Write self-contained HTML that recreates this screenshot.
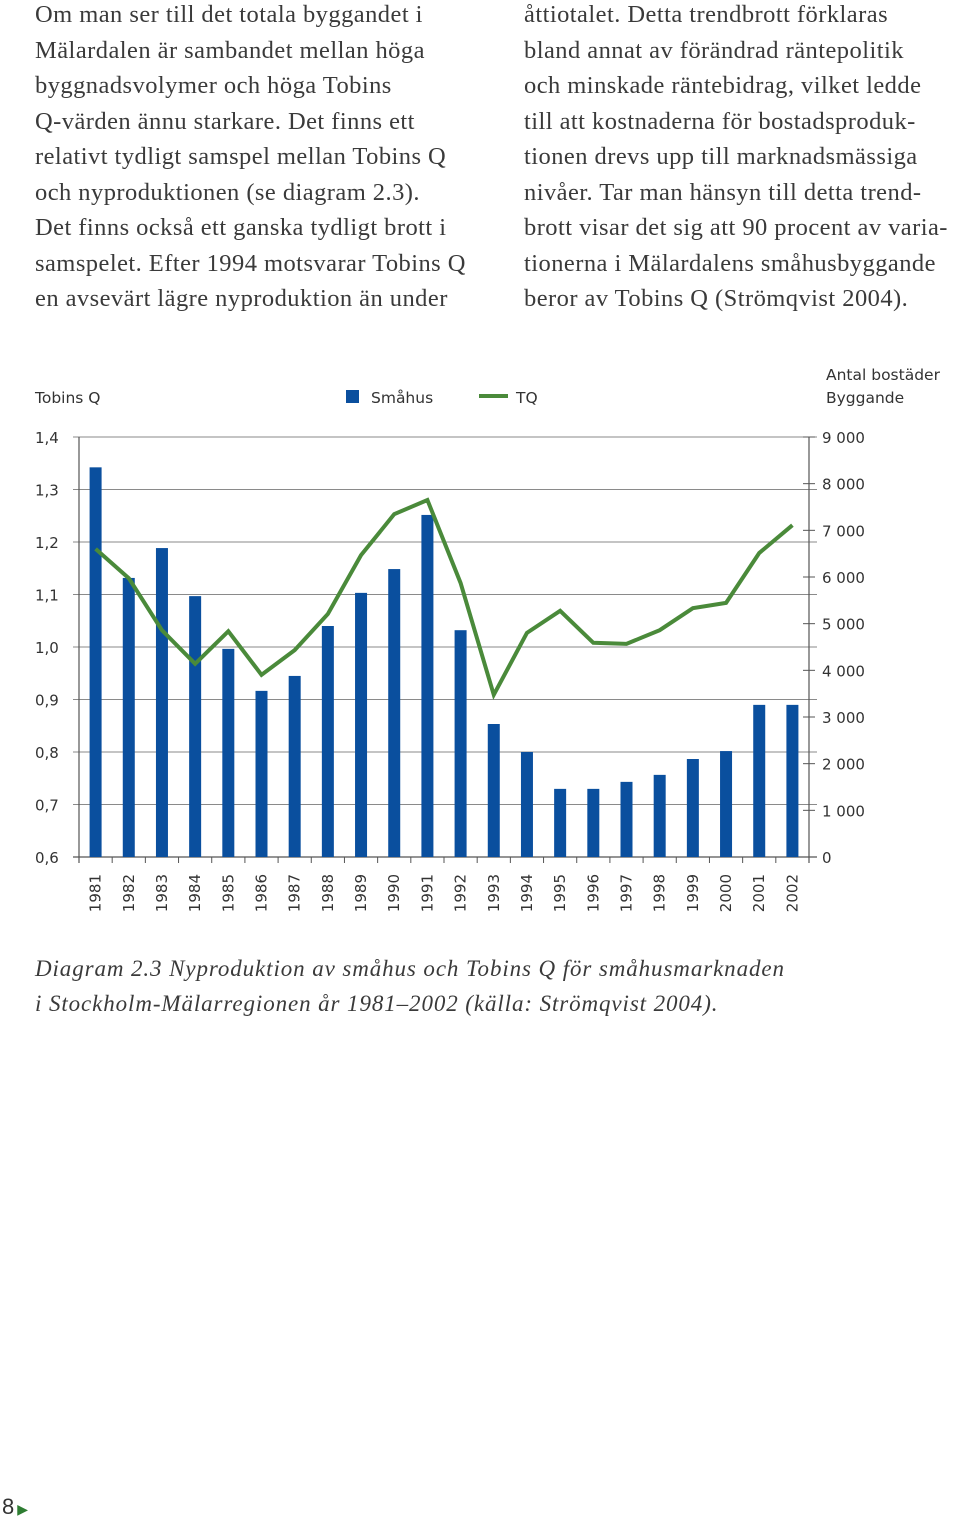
<!DOCTYPE html>
<html><head><meta charset="utf-8"><style>
body{margin:0;width:960px;height:1520px;background:#fff;position:relative;font-family:"Liberation Serif",serif;color:#333;overflow:hidden}
.col{position:absolute;top:-3px;font-size:24.5px;line-height:35.5px;color:#3a3a3a;margin:0;white-space:nowrap;letter-spacing:0.45px}
.cap{position:absolute;left:35px;top:951px;font-size:23px;line-height:35px;font-style:italic;color:#3a3a3a;margin:0;white-space:nowrap;letter-spacing:0.9px}
svg text{font-family:"DejaVu Sans","Liberation Sans",sans-serif;fill:#333}
</style></head><body>
<p class="col" style="left:35px">Om man ser till det totala byggandet i<br>Mälardalen är sambandet mellan höga<br>byggnadsvolymer och höga Tobins<br>Q-värden ännu starkare. Det finns ett<br>relativt tydligt samspel mellan Tobins Q<br>och nyproduktionen (se diagram 2.3).<br>Det finns också ett ganska tydligt brott i<br>samspelet. Efter 1994 motsvarar Tobins Q<br>en avsevärt lägre nyproduktion än under</p>
<p class="col" style="left:524px">åttiotalet. Detta trendbrott förklaras<br>bland annat av förändrad räntepolitik<br>och minskade räntebidrag, vilket ledde<br>till att kostnaderna för bostadsproduk-<br>tionen drevs upp till marknadsmässiga<br>nivåer. Tar man hänsyn till detta trend-<br>brott visar det sig att 90 procent av varia-<br>tionerna i Mälardalens småhusbyggande<br>beror av Tobins Q (Strömqvist 2004).</p>
<svg id="chart" width="960" height="940" style="position:absolute;left:0;top:0"></svg>
<p class="cap">Diagram 2.3 Nyproduktion av småhus och Tobins Q för småhusmarknaden<br>i Stockholm-Mälarregionen år 1981–2002 (källa: Strömqvist 2004).</p>
<div style="position:absolute;left:2px;top:1494px;font-family:'Liberation Sans',sans-serif;font-size:22px;color:#333">8<span style="color:#2e7d32;font-size:14px;margin-left:3px">▶</span></div>
<script>
const years=["1981","1982","1983","1984","1985","1986","1987","1988","1989","1990","1991","1992","1993","1994","1995","1996","1997","1998","1999","2000","2001","2002"];
const smahus=[8350,5980,6620,5590,4460,3560,3880,4950,5660,6170,7330,4860,2850,2250,1460,1460,1610,1760,2100,2270,3260,3260];
const tq=[1.187,1.131,1.032,0.968,1.030,0.947,0.994,1.063,1.175,1.253,1.280,1.122,0.909,1.027,1.069,1.008,1.006,1.032,1.074,1.084,1.179,1.232];
const leftTicks=["0,6","0,7","0,8","0,9","1,0","1,1","1,2","1,3","1,4"];
const leftVals=[0.6,0.7,0.8,0.9,1.0,1.1,1.2,1.3,1.4];
const rightVals=[0,1000,2000,3000,4000,5000,6000,7000,8000,9000];
const rightTicks=["0","1 000","2 000","3 000","4 000","5 000","6 000","7 000","8 000","9 000"];
const NS="http://www.w3.org/2000/svg",svg=document.getElementById('chart');
const X0=79,X1=809,Y0=857,Y1=437;
const band=(X1-X0)/years.length;
const xc=i=>X0+(i+0.5)*band;
const yL=v=>Y0-(v-0.6)/0.8*(Y0-Y1);
const yR=v=>Y0-v/9000*(Y0-Y1);
function mk(t,a,txt){const e=document.createElementNS(NS,t);for(const k in a)e.setAttribute(k,a[k]);if(txt!==undefined)e.textContent=txt;svg.appendChild(e);return e;}
leftVals.forEach((v,i)=>{
 const g=mk('line',{x1:73,x2:817,y1:yL(v),y2:yL(v),stroke:'#8a8a8a','stroke-width':1});
 
 const t=mk('text',{x:35,y:yL(v)+6,'font-size':15},leftTicks[i]);
 
});
rightVals.forEach((v,i)=>{
 const l=mk('line',{x1:803,x2:815,y1:yR(v),y2:yR(v),stroke:'#555','stroke-width':1});
 
 const t=mk('text',{x:822,y:yR(v)+6,'font-size':15},rightTicks[i]);
 
});
mk('line',{x1:X0,x2:X0,y1:Y1,y2:Y0+6,stroke:'#555','stroke-width':1.2});
mk('line',{x1:X1,x2:X1,y1:Y1,y2:Y0+6,stroke:'#555','stroke-width':1.2});
mk('line',{x1:73,x2:817,y1:Y0,y2:Y0,stroke:'#555','stroke-width':1.2});
years.forEach((yr,i)=>{
 const tk=mk('line',{x1:X0+i*band,x2:X0+i*band,y1:Y0,y2:Y0+6,stroke:'#555'});
 
 const b=mk('rect',{x:xc(i)-6,y:yR(smahus[i]),width:12,height:Y0-yR(smahus[i]),fill:'#0a4f9e'});
 
 const t=mk('text',{x:0,y:0,'font-size':15,'text-anchor':'end',transform:`translate(${xc(i)+5},874) rotate(-90)`},yr);
 
});
const pl=mk('polyline',{points:tq.map((v,i)=>xc(i)+','+yL(v)).join(' '),fill:'none',stroke:'#4a8a3a','stroke-width':4,'stroke-linejoin':'miter'});

const a=mk('text',{x:35,y:403,'font-size':15.5},'Tobins Q');
const r1=mk('text',{x:826,y:380,'font-size':15.5},'Antal bostäder');
const r2=mk('text',{x:826,y:403,'font-size':15.5},'Byggande');
const ls=mk('rect',{x:346,y:390,width:13,height:13,fill:'#0a4f9e'});
const lt=mk('text',{x:371,y:403,'font-size':15.5},'Småhus');
const ll=mk('line',{x1:479,x2:508,y1:396,y2:396,stroke:'#4a8a3a','stroke-width':4});
const lt2=mk('text',{x:516,y:403,'font-size':15.5},'TQ');
</script>
</body></html>
